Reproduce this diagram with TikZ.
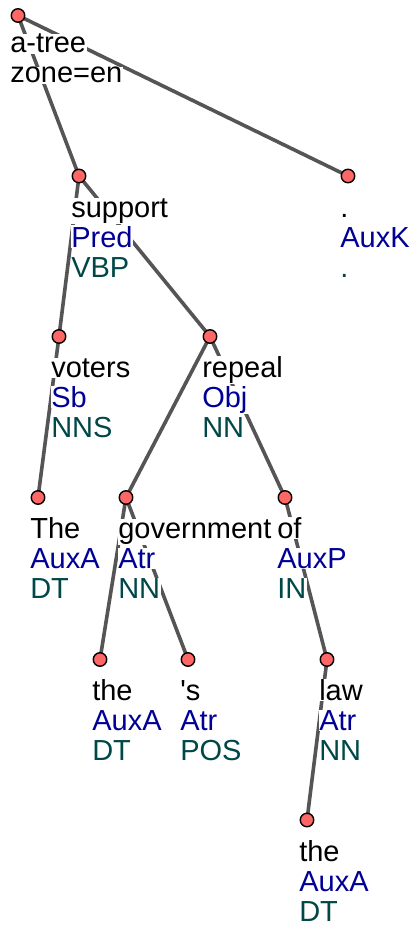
\documentclass[tikz,border=0pt]{standalone}
\usepackage{fontspec}
\setmainfont{Liberation Sans}[Ligatures=TeXOff]
\definecolor{edgegray}{RGB}{85,85,85}
\definecolor{dotred}{RGB}{255,102,102}
\definecolor{afunblue}{RGB}{0,0,150}
\definecolor{tagteal}{RGB}{0,72,72}
\tikzset{
  edge/.style={draw=edgegray,line width=3.6pt},
  dot/.style={circle,draw=black,line width=1.4pt,fill=dotred,minimum size=13.5pt,inner sep=0pt},
  txt/.style={anchor=base west,fill=white,inner sep=0.6pt,font=\fontsize{29}{30}\selectfont},
  wordtxt/.style={txt,text=black},
  afuntxt/.style={txt,text=afunblue},
  tagtxt/.style={txt,text=tagteal}
}
\newcommand{\lbl}[4]{%
  \node[wordtxt] (#1-w) at ([shift={(-8.5,41)}]#1) {#2};
  \node[afuntxt] (#1-a) at ([shift={(-8.5,71)}]#1) {#3};
  \node[tagtxt] (#1-t) at ([shift={(-8.5,101)}]#1) {#4};
}
\begin{document}
\begin{tikzpicture}[x=1pt,y=-1pt]
\useasboundingbox[fill=white] (0,0) rectangle (414,928);
% positions
\coordinate (root) at (18,15.5);
\coordinate (support) at (79,176);
\coordinate (dot) at (348,176);
\coordinate (voters) at (59,336.5);
\coordinate (repeal) at (210,336.5);
\coordinate (The) at (38,497.5);
\coordinate (govt) at (126,497.5);
\coordinate (of) at (285,497.5);
\coordinate (the1) at (100,659.5);
\coordinate (poss) at (188,659.5);
\coordinate (law) at (327,659.5);
\coordinate (the2) at (307,820);
% edges
\draw[edge] (root) -- (support);
\draw[edge] (root) -- (dot);
\draw[edge] (support) -- (voters);
\draw[edge] (support) -- (repeal);
\draw[edge] (voters) -- (The);
\draw[edge] (repeal) -- (govt);
\draw[edge] (repeal) -- (of);
\draw[edge] (govt) -- (the1);
\draw[edge] (govt) -- (poss);
\draw[edge] (of) -- (law);
\draw[edge] (law) -- (the2);
% labels
\node[wordtxt] (root-w1) at ([shift={(-8.5,37.5)}]root) {a-tree};
\node[wordtxt] (root-w2) at ([shift={(-8.5,67.5)}]root) {zone=en};
\lbl{support}{support}{Pred}{VBP}
\lbl{dot}{.}{AuxK}{.}
\lbl{voters}{voters}{Sb}{NNS}
\lbl{repeal}{repeal}{Obj}{NN}
\lbl{The}{The}{AuxA}{DT}
\lbl{govt}{government}{Atr}{NN}
\lbl{of}{of}{AuxP}{IN}
\lbl{the1}{the}{AuxA}{DT}
\lbl{poss}{'s}{Atr}{POS}
\lbl{law}{law}{Atr}{NN}
\lbl{the2}{the}{AuxA}{DT}
% dots
\foreach \n in {root,support,dot,voters,repeal,The,govt,of,the1,poss,law,the2}
  \node[dot] (\n-c) at (\n) {};
\end{tikzpicture}
\end{document}
